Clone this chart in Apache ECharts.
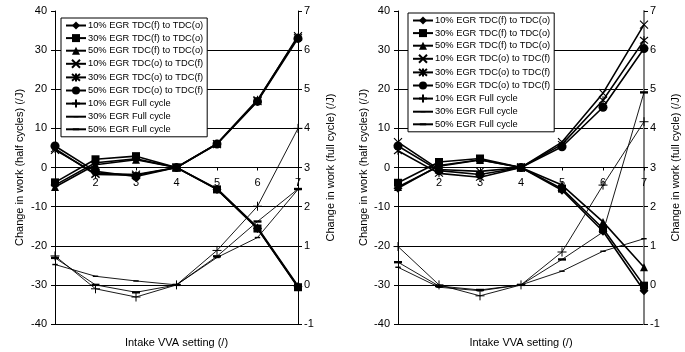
<!DOCTYPE html>
<html>
<head>
<meta charset="utf-8">
<script src="https://cdn.jsdelivr.net/npm/echarts@6/dist/echarts.min.js"></script>
<style>html,body{margin:0;padding:0;background:#fff}#c{width:685px;height:352px}</style>
</head>
<body>
<div id="c"></div>
<script>
const xValues = [1, 2, 3, 4, 5, 6, 7];
const seriesNames = [
  '10% EGR TDC(f) to TDC(o)', '30% EGR TDC(f) to TDC(o)', '50% EGR TDC(f) to TDC(o)',
  '10% EGR TDC(o) to TDC(f)', '30% EGR TDC(o) to TDC(f)', '50% EGR TDC(o) to TDC(f)',
  '10% EGR Full cycle', '30% EGR Full cycle', '50% EGR Full cycle'
];
const leftTicks = [-40, -30, -20, -10, 0, 10, 20, 30, 40];
const rightTicks = [-1, 0, 1, 2, 3, 4, 5, 6, 7];
const xTitle = 'Intake VVA setting (/)';
const yLeftTitle = 'Change in work (half cycles) (/J)';
const yRightTitle = 'Change in work (full cycle) (/J)';

// Left panel
const a10fo = [-4.5, 1.2, 2.2, 0, -5.6, -15.6, -30.5];
const a30fo = [-3.8, 2.1, 2.9, 0, -5.6, -15.6, -30.6];
const a50fo = [-5.0, 0.7, 2.0, 0, -5.4, -15.3, -30.3];
const a10of = [4.5, -1.5, -1.8, 0, 6.0, 17.0, 33.6];
const a30of = [4.8, -1.8, -2.0, 0, 6.1, 17.3, 33.3];
const a50of = [5.5, -1.0, -2.3, 0, 6.0, 16.9, 33.0];
const a10full = [0.74, -0.1, -0.31, 0, 0.88, 2.01, 4.0];
const a30full = [0.52, 0.22, 0.1, 0, 0.7, 1.21, 2.44];
const a50full = [0.69, 0.0, -0.19, 0, 0.73, 1.62, 2.45];

// Right panel
const b10fo = [-5.3, 0.5, 2.0, 0, -5.8, -16.3, -31.5];
const b30fo = [-3.9, 1.4, 2.3, 0, -5.4, -15.6, -30.2];
const b50fo = [-5.0, 0.3, 1.9, 0, -4.5, -13.9, -25.5];
const b10of = [6.5, -0.5, -1.0, 0, 6.5, 19.0, 36.5];
const b30of = [4.3, -1.5, -2.5, 0, 5.9, 17.2, 32.5];
const b50of = [5.5, -0.8, -1.8, 0, 5.3, 15.4, 30.4];
const b10full = [0.98, 0.0, -0.28, 0, 0.84, 2.55, 4.17];
const b30full = [0.45, -0.06, -0.15, 0, 0.35, 0.86, 1.18];
const b50full = [0.58, -0.03, -0.13, 0, 0.65, 1.35, 4.92];

const FONT = 'Liberation Sans, Arial, sans-serif';
const SYM_X = 'path://M0,0L10,10M10,0L0,10';
const SYM_STAR = 'path://M0,0L10,10M10,0L0,10M5,-1L5,11';
const SYM_PLUS = 'path://M5,0L5,10M0,5L10,5';
// dash markers inside a square box (zero-length corner moves keep the box)
const SYM_DASH_S = 'path://M0,0L0,0M10,10L10,10M2,4.2L8,4.2L8,5.8L2,5.8Z';
const SYM_DASH_L = 'path://M0,0L0,0M10,10L10,10M1,3.8L9,3.8L9,6.2L1,6.2Z';

const styles = [
  {symbol: 'diamond', size: 9, lw: 1.6, bw: 0},
  {symbol: 'rect', size: 8, lw: 1.6, bw: 0},
  {symbol: 'triangle', size: 8, lw: 1.6, bw: 0},
  {symbol: SYM_X, size: 8, lw: 1.6, bw: 1.1},
  {symbol: SYM_STAR, size: 8, lw: 1.6, bw: 1.1},
  {symbol: 'circle', size: 9, lw: 1.6, bw: 0},
  {symbol: SYM_PLUS, size: 9, lw: 0.9, bw: 1},
  {symbol: SYM_DASH_S, size: 9, lw: 0.9, bw: 0},
  {symbol: SYM_DASH_L, size: 10, lw: 0.9, bw: 0}
];

function mk(idx, data, xi, yi) {
  const s = styles[idx];
  return {
    name: seriesNames[idx], type: 'line', xAxisIndex: xi, yAxisIndex: yi,
    data: xValues.map((x, i) => [x, data[i]]),
    symbol: s.symbol, symbolSize: s.size, showSymbol: true, showAllSymbol: true,
    lineStyle: {color: '#000', width: s.lw},
    itemStyle: {color: '#000', borderColor: '#000', borderWidth: s.bw},
    emphasis: {disabled: true}, animation: false
  };
}

const panelA = [a10fo, a30fo, a50fo, a10of, a30of, a50of, a10full, a30full, a50full];
const panelB = [b10fo, b30fo, b50fo, b10of, b30of, b50of, b10full, b30full, b50full];

const series = [];
panelA.forEach((d, i) => series.push(mk(i, d, 0, i < 6 ? 0 : 1)));
panelB.forEach((d, i) => series.push(mk(i, d, 1, i < 6 ? 2 : 3)));

const gridColors = leftTicks.map(v => v === 40 ? 'rgba(0,0,0,0)' : '#000');
const GRID_H = 313;

function xAxis(gi) {
  return {
    type: 'value', gridIndex: gi, min: 1, max: 7, interval: 1,
    // axis crosses the left value axis at 0 (middle of the plot)
    offset: -GRID_H / 2,
    name: xTitle, nameLocation: 'middle', nameGap: 170,
    nameTextStyle: {color: '#000', fontSize: 11, fontFamily: FONT},
    axisLine: {show: true, onZero: false, lineStyle: {color: '#000', width: 1}},
    axisTick: {show: true, length: 3, lineStyle: {color: '#000'}},
    axisLabel: {color: '#000', fontSize: 11, fontFamily: FONT, margin: 10,
      formatter: v => (v === 1 ? '' : String(v))},
    splitLine: {show: false}
  };
}
function yLeft(gi, gap) {
  return {
    type: 'value', gridIndex: gi, position: 'left', min: -40, max: 40, interval: 10,
    name: yLeftTitle, nameLocation: 'middle', nameGap: gap, nameRotate: 90,
    nameTextStyle: {color: '#000', fontSize: 11, fontFamily: FONT},
    axisLine: {show: true, lineStyle: {color: '#000', width: 1}},
    axisTick: {show: true, length: 4, lineStyle: {color: '#000'}},
    axisLabel: {color: '#000', fontSize: 11, fontFamily: FONT, margin: 8},
    splitLine: {show: true, lineStyle: {color: gridColors, width: 1}}
  };
}
function yRight(gi, gap, col, w) {
  return {
    type: 'value', gridIndex: gi, position: 'right', min: -1, max: 7, interval: 1,
    name: yRightTitle, nameLocation: 'middle', nameGap: gap, nameRotate: 90,
    nameTextStyle: {color: '#000', fontSize: 11, fontFamily: FONT},
    axisLine: {show: true, lineStyle: {color: col, width: w}},
    axisTick: {show: true, length: 4, lineStyle: {color: '#000'}},
    axisLabel: {color: '#000', fontSize: 11, fontFamily: FONT, margin: 6},
    splitLine: {show: false}
  };
}
function legend(left, top) {
  return {
    data: seriesNames, orient: 'vertical', left: left, top: top,
    backgroundColor: '#fff', borderColor: '#000', borderWidth: 1,
    padding: [3, 4, 3, 4], itemGap: 3.6, itemWidth: 20, itemHeight: 10,
    textStyle: {color: '#000', fontSize: 9.3, fontFamily: FONT, padding: [0, 0, 0, -3]},
    selectedMode: false, z: 10
  };
}

const option = {
  animation: false,
  backgroundColor: '#fff',
  grid: [
    {left: 55, top: 11, width: 243, height: GRID_H, outerBoundsMode: 'none', containLabel: false},
    {left: 398, top: 11, width: 246, height: GRID_H, outerBoundsMode: 'none', containLabel: false}
  ],
  xAxis: [xAxis(0), xAxis(1)],
  yAxis: [yLeft(0, 30), yRight(0, 27, '#000', 1), yLeft(1, 29), yRight(1, 26, '#808080', 2)],
  legend: [legend(61, 18), legend(408, 13)],
  series: series
};

const chart = echarts.init(document.getElementById('c'), null, {renderer: 'canvas'});
chart.setOption(option);
</script>
</body>
</html>
